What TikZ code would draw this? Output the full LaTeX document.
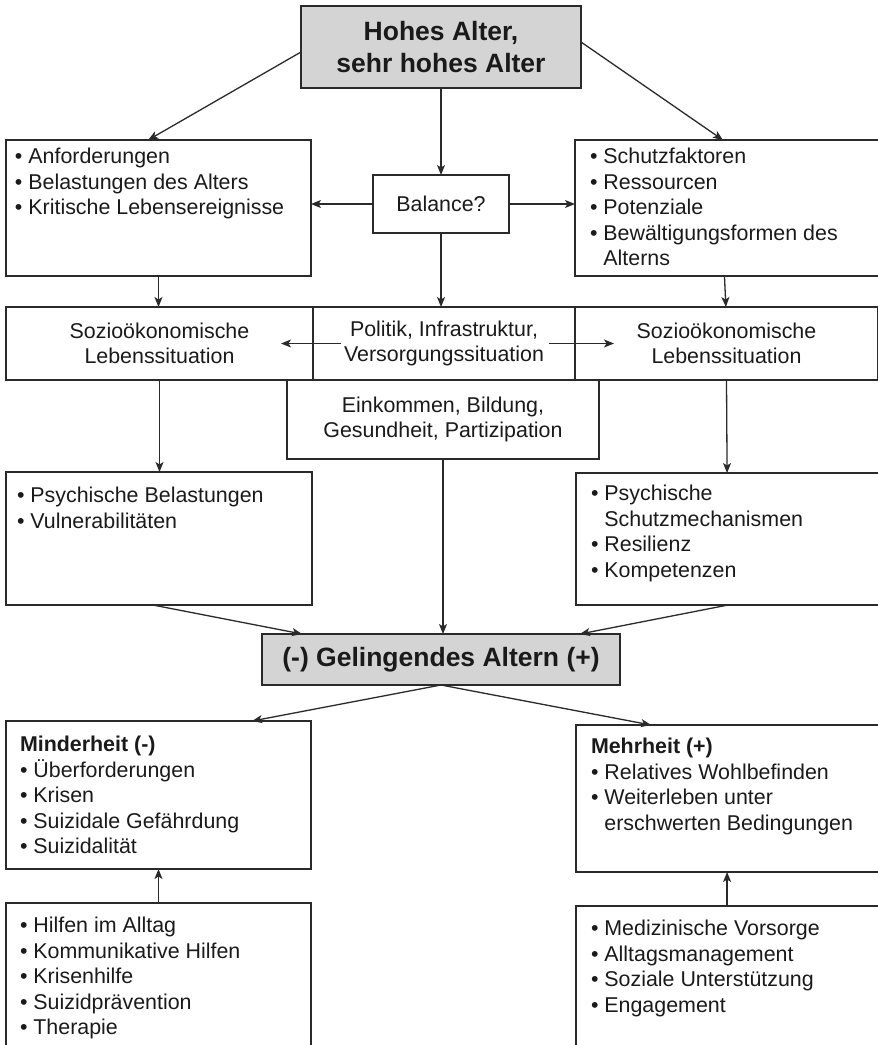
\documentclass[tikz,border=0pt]{standalone}
\usepackage{fontspec}
\setmainfont{Liberation Sans}
\usetikzlibrary{arrows.meta,calc}
\definecolor{ln}{HTML}{2A2A2A}
\definecolor{tx}{HTML}{1A1A1A}
\definecolor{gr}{HTML}{D4D4D4}
\newcommand{\bl}{\textbullet\ }
\newcommand{\ind}{\hphantom{\textbullet\ }}
\newcommand{\fs}{\rule{0pt}{15pt}}
\begin{document}
\begin{tikzpicture}[x=1pt,y=-1pt,
  box/.style={draw=ln,line width=1.5pt,inner sep=0pt,outer sep=0pt,text=tx,align=center,
    font=\fontsize{21.4}{25.5}\selectfont},
  gbox/.style={box,fill=gr,font=\fontsize{26.5}{32}\selectfont\bfseries},
  txt/.style={anchor=north west,inner sep=0pt,outer sep=0pt,align=left,text=tx,
    font=\fontsize{21.4}{25.5}\selectfont},
  arr/.style={draw=ln,line width=1.3pt,-{Stealth[length=10pt,width=8pt,inset=2.5pt]}}]
\clip (0,0) rectangle (878,1045);
% boxes
\node[gbox,minimum width=280pt,minimum height=82pt] (T) at (441,47) {Hohes Alter,\\sehr hohes Alter};
\node[box,minimum width=305pt,minimum height=136pt] (A) at (158.5,208) {};
\node[box,minimum width=136pt,minimum height=58pt] (Bal) at (441,204) {Balance?};
\node[box,minimum width=305pt,minimum height=136pt] (B) at (727.5,208) {};
\node[box,minimum width=307pt,minimum height=73pt] (L2) at (159.5,343.5) {Sozioökonomische\\Lebenssituation};
\node[box,minimum width=262pt,minimum height=73pt] (M2) at (444,343.5) {Politik, Infrastruktur,\\Versorgungssituation};
\node[box,minimum width=303pt,minimum height=73pt] (R2) at (726.5,343.5) {Sozioökonomische\\Lebenssituation};
\node[box,fill=white,minimum width=312pt,minimum height=79pt] (E) at (443,419.5) {Einkommen, Bildung,\\Gesundheit, Partizipation};
\node[box,minimum width=306pt,minimum height=133pt] (C) at (159,538.5) {};
\node[box,minimum width=304pt,minimum height=132pt] (D) at (728,539) {};
\node[gbox,minimum width=358pt,minimum height=51pt] (G) at (441,659.5) {(-) Gelingendes Altern (+)};
\node[box,minimum width=305pt,minimum height=148pt] (Mi) at (158.5,795) {};
\node[box,minimum width=304pt,minimum height=147pt] (Me) at (728,798.5) {};
\node[box,minimum width=305pt,minimum height=157pt] (H) at (158.5,981.5) {};
\node[box,minimum width=304pt,minimum height=154pt] (Md) at (728,983) {};
% texts
\node[txt] (At) at (15,148) {\fs\bl Anforderungen\\\bl Belastungen des Alters\\\bl Kritische Lebensereignisse};
\node[txt] (Bt) at (590,148) {\fs\bl Schutzfaktoren\\\bl Ressourcen\\\bl Potenziale\\\bl Bewältigungsformen des\\\ind Alterns};
\node[txt] (Ct) at (17,487) {\fs\bl Psychische Belastungen\\\bl Vulnerabilitäten};
\node[txt] (Dt) at (591,485) {\fs\bl Psychische\\\ind Schutzmechanismen\\\bl Resilienz\\\bl Kompetenzen};
\node[txt] (Mit) at (20,736) {\fs\textbf{Minderheit (-)}\\\bl Überforderungen\\\bl Krisen\\\bl Suizidale Gefährdung\\\bl Suizidalität};
\node[txt] (Met) at (591,738) {\fs\textbf{Mehrheit (+)}\\\bl Relatives Wohlbefinden\\\bl Weiterleben unter\\\ind erschwerten Bedingungen};
\node[txt] (Ht) at (20,917) {\fs\bl Hilfen im Alltag\\\bl Kommunikative Hilfen\\\bl Krisenhilfe\\\bl Suizidprävention\\\bl Therapie};
\node[txt] (Mdt) at (591,920) {\fs\bl Medizinische Vorsorge\\\bl Alltagsmanagement\\\bl Soziale Unterstützung\\\bl Engagement};
% connectors
\draw[arr] ($(T.west)+(0,5)$) -- ($(A.north west)!0.466!(A.north east)$);
\draw[arr] ($(T.east)+(0,-5)$) -- ($(B.north west)!0.485!(B.north east)$);
\draw[arr] (T.south) -- (Bal.north);
\draw[arr] (Bal.west) -- (Bal.west -| A.east);
\draw[arr] (Bal.east) -- (Bal.east -| B.west);
\draw[arr] (Bal.south) -- (Bal.south |- M2.north);
\draw[arr] (A.south) -- (A.south |- L2.north);
\draw[arr] ($(B.south west)!0.49!(B.south east)$) -- ($(R2.north west)!0.498!(R2.north east)$);
\draw[arr] ($(M2.west)+(28,0)$) -- ($(L2.east)+(-32,0)$);
\draw[arr] ($(M2.east)+(-26,0)$) -- ($(R2.west)+(39,0)$);
\draw[arr] (L2.south) -- (L2.south |- C.north);
\draw[arr] ($(R2.south west)!0.5!(R2.south east)$) -- ($(D.north west)!0.497!(D.north east)$);
\draw[arr] (E.south) -- (E.south |- G.north);
\draw[arr] ($(C.south west)!0.48!(C.south east)$) -- ($(G.north west)!0.112!(G.north east)$);
\draw[arr] ($(D.south west)!0.5!(D.south east)$) -- ($(G.north west)!0.888!(G.north east)$);
\draw[arr] (G.south) -- ($(Mi.north west)!0.807!(Mi.north east)$);
\draw[arr] (G.south) -- ($(Me.north west)!0.247!(Me.north east)$);
\draw[arr] ($(H.north west)!0.5!(H.north east)$) -- ($(Mi.south west)!0.5!(Mi.south east)$);
\draw[arr] ($(Md.north west)!0.497!(Md.north east)$) -- ($(Me.south west)!0.497!(Me.south east)$);
\end{tikzpicture}
\end{document}
